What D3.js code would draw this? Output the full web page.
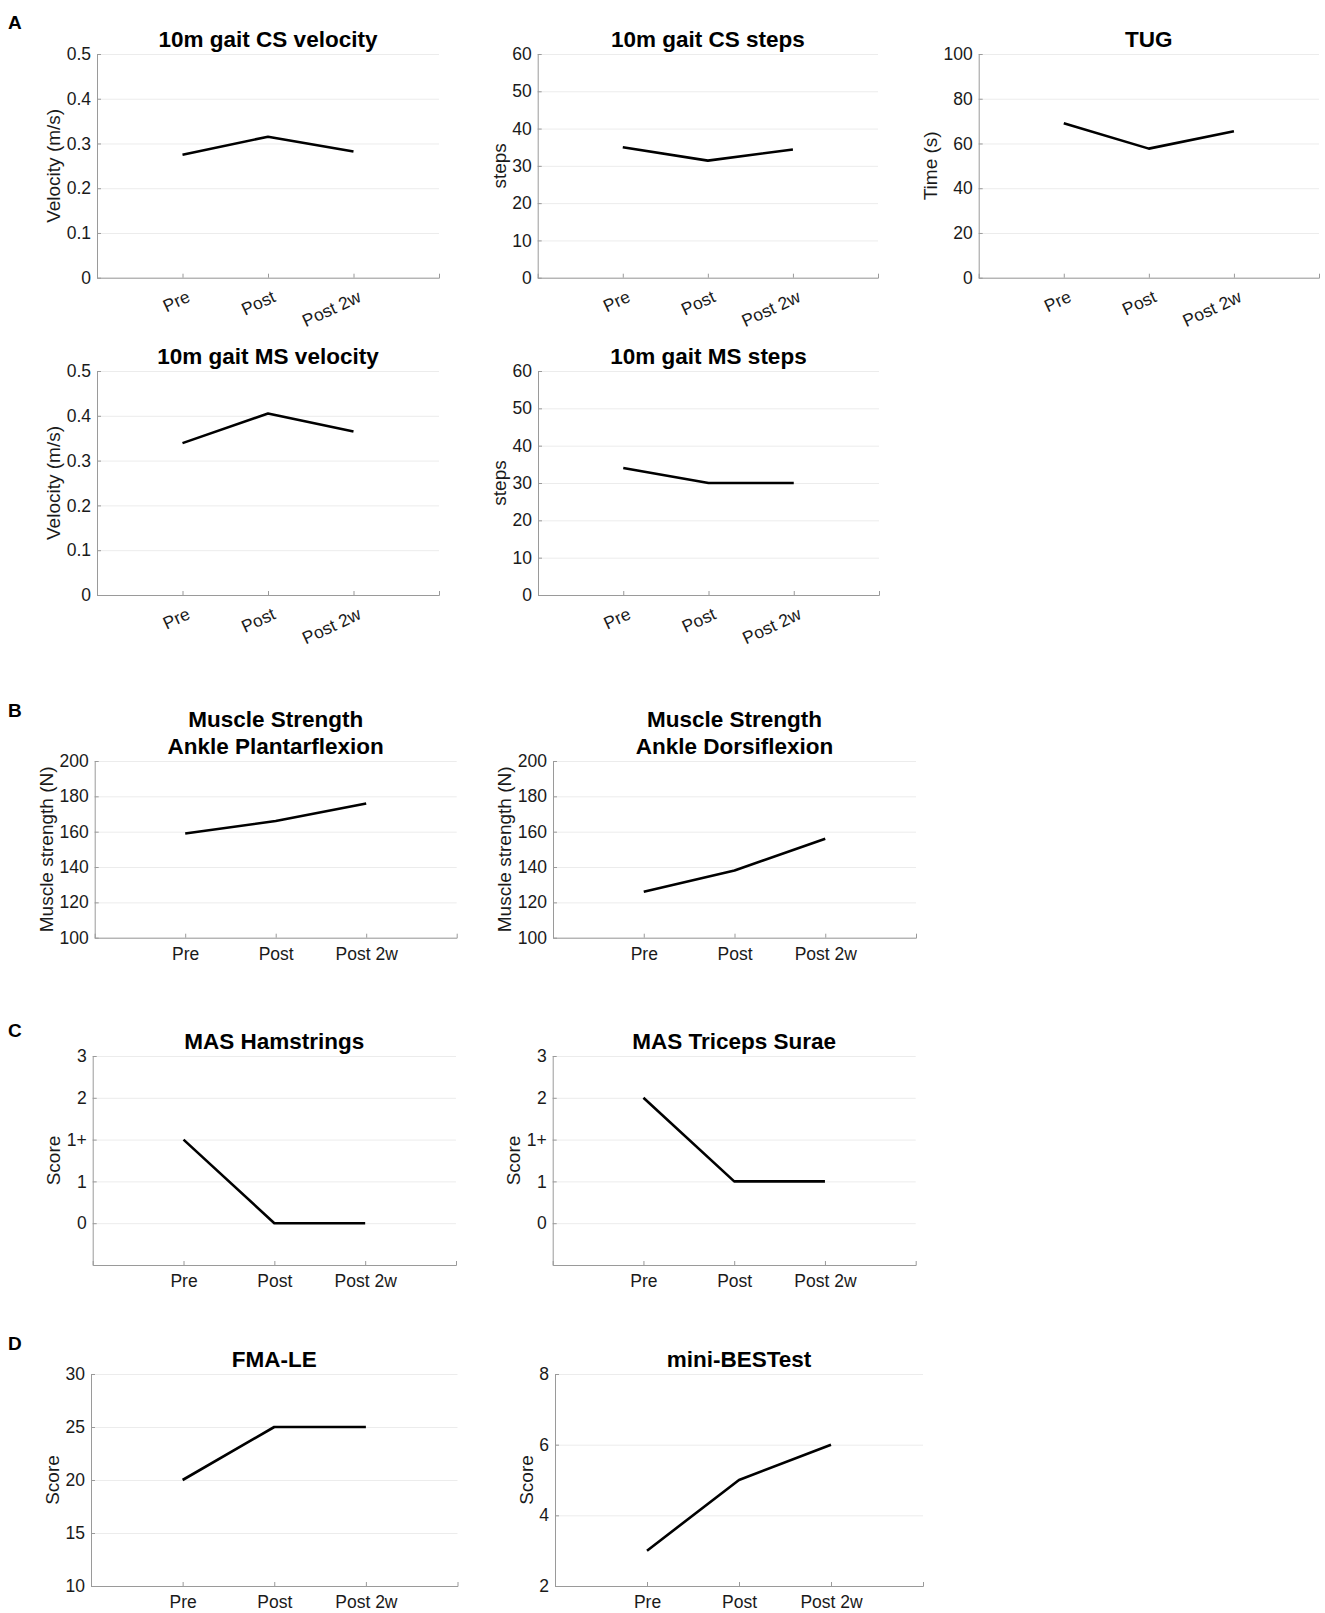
<!DOCTYPE html>
<html>
<head>
<meta charset="utf-8">
<script src="https://cdn.jsdelivr.net/npm/d3@7"></script>
<style>
  html, body { margin: 0; padding: 0; background: #fff; }
  svg { display: block; font-family: "Liberation Sans", Arial, Helvetica, sans-serif; }
</style>
</head>
<body>
<svg id="chart" width="1325" height="1613"></svg>
<script>
// ---------------- data ----------------
const categories = ["Pre", "Post", "Post 2w"];

const csVelocity = [0.275, 0.315, 0.282];
const csSteps = [35, 31.4, 34.4];
const tugTime = [69, 57.7, 65.5];
const msVelocity = [0.339, 0.405, 0.365];
const msSteps = [34, 30, 30];

const plantarflexion = [159, 166, 176];
const dorsiflexion = [126, 138, 156];

const masLevels = ["0", "1", "1+", "2", "3"];
const masHamstrings = ["1+", "0", "0"];
const masTriceps = ["2", "1", "1"];

const fmaLE = [20, 25, 25];
const miniBEST = [3, 5, 6];

const velocityTicks = [0, 0.1, 0.2, 0.3, 0.4, 0.5];
const stepsTicks = [0, 10, 20, 30, 40, 50, 60];
const tugTicks = [0, 20, 40, 60, 80, 100];
const strengthTicks = [100, 120, 140, 160, 180, 200];
const fmaTicks = [10, 15, 20, 25, 30];
const bestTicks = [2, 4, 6, 8];

// ---------------- layout ----------------
const svg = d3.select("#chart");
const FONT_TICK = 17.5, FONT_LABEL = 19, FONT_TITLE = 22.5;
const AXIS_COLOR = "#9a9a9a", GRID_COLOR = "#ececec";

const panels = [
  { box: [97, 439, 54, 277.7], title: ["10m gait CS velocity"], ylabel: "Velocity (m/s)",
    values: csVelocity, domain: [0, 0.5], ticks: velocityTicks, fmt: d3.format(""), rotate: true },
  { box: [537.7, 878, 54, 277.7], title: ["10m gait CS steps"], ylabel: "steps",
    values: csSteps, domain: [0, 60], ticks: stepsTicks, rotate: true },
  { box: [978.7, 1319, 54, 277.7], title: ["TUG"], ylabel: "Time (s)",
    values: tugTime, domain: [0, 100], ticks: tugTicks, rotate: true },
  { box: [97, 439, 371, 595], title: ["10m gait MS velocity"], ylabel: "Velocity (m/s)",
    values: msVelocity, domain: [0, 0.5], ticks: velocityTicks, rotate: true },
  { box: [538, 879, 371, 595], title: ["10m gait MS steps"], ylabel: "steps",
    values: msSteps, domain: [0, 60], ticks: stepsTicks, rotate: true },
  { box: [94.7, 456.7, 761, 937.7], title: ["Muscle Strength", "Ankle Plantarflexion"], ylabel: "Muscle strength (N)",
    values: plantarflexion, domain: [100, 200], ticks: strengthTicks },
  { box: [553, 916, 761, 937.7], title: ["Muscle Strength", "Ankle Dorsiflexion"], ylabel: "Muscle strength (N)",
    values: dorsiflexion, domain: [100, 200], ticks: strengthTicks },
  { box: [92.7, 456, 1056, 1265], title: ["MAS Hamstrings"], ylabel: "Score",
    values: masHamstrings.map(v => masLevels.indexOf(v)), domain: [-1, 4],
    ticks: masLevels.map((d, i) => i), fmt: i => masLevels[i] },
  { box: [552.7, 915.7, 1056, 1265], title: ["MAS Triceps Surae"], ylabel: "Score",
    values: masTriceps.map(v => masLevels.indexOf(v)), domain: [-1, 4],
    ticks: masLevels.map((d, i) => i), fmt: i => masLevels[i] },
  { box: [91, 457.5, 1374, 1586], title: ["FMA-LE"], ylabel: "Score",
    values: fmaLE, domain: [10, 30], ticks: fmaTicks },
  { box: [555, 923, 1374, 1586], title: ["mini-BESTest"], ylabel: "Score",
    values: miniBEST, domain: [2, 8], ticks: bestTicks }
];

const letters = [
  { t: "A", x: 8, y: 29 },
  { t: "B", x: 8, y: 717 },
  { t: "C", x: 8, y: 1037 },
  { t: "D", x: 8, y: 1350 }
];

letters.forEach(l => {
  svg.append("text").attr("x", l.x).attr("y", l.y)
    .attr("font-size", 19).attr("font-weight", "bold").attr("fill", "#000").text(l.t);
});

panels.forEach(p => {
  const [x0, x1, y0, y1] = p.box;
  const x = d3.scaleLinear().domain([0, 4]).range([x0, x1]);
  const y = d3.scaleLinear().domain(p.domain).range([y1, y0]);
  const g = svg.append("g");

  // grid
  const grid = g.append("g").attr("transform", `translate(${x0},0)`)
    .call(d3.axisLeft(y).tickValues(p.ticks).tickSize(-(x1 - x0)).tickFormat(""));
  grid.select(".domain").remove();
  grid.selectAll("line").attr("stroke", GRID_COLOR).attr("stroke-width", 1);

  // data line
  const line = d3.line().x((d, i) => x(i + 1)).y(d => y(d));
  g.append("path").datum(p.values)
    .attr("d", line).attr("fill", "none")
    .attr("stroke", "#000").attr("stroke-width", 2.6)
    .attr("stroke-linejoin", "round");

  // y axis
  const ya = g.append("g").attr("transform", `translate(${x0},0)`)
    .call(d3.axisLeft(y).tickValues(p.ticks)
      .tickFormat(p.fmt || (d => d3.format("")(d)))
      .tickSizeInner(-4).tickSizeOuter(0).tickPadding(6));
  ya.select(".domain").attr("stroke", AXIS_COLOR);
  ya.selectAll(".tick line").attr("stroke", AXIS_COLOR);
  ya.selectAll(".tick text").attr("font-size", FONT_TICK).attr("fill", "#1a1a1a")
    .attr("font-family", "Liberation Sans, Arial, sans-serif");

  // x axis
  const xa = g.append("g").attr("transform", `translate(0,${y1})`)
    .call(d3.axisBottom(x).tickValues([1, 2, 3])
      .tickFormat(d => categories[d - 1])
      .tickSizeInner(-4).tickSizeOuter(-4).tickPadding(9.5));
  xa.select(".domain").attr("stroke", AXIS_COLOR);
  xa.selectAll(".tick line").attr("stroke", AXIS_COLOR);
  const xt = xa.selectAll(".tick text").attr("font-size", FONT_TICK).attr("fill", "#1a1a1a")
    .attr("font-family", "Liberation Sans, Arial, sans-serif");
  if (p.rotate) {
    xt.attr("x", 3).attr("y", 12).attr("dy", "0.71em")
      .attr("text-anchor", "end")
      .attr("transform", "rotate(-25,3,12)");
  }

  // y label
  let maxW = 0;
  ya.selectAll(".tick text").each(function () { maxW = Math.max(maxW, this.getComputedTextLength()); });
  const lx = x0 - maxW - 19;
  const ly = (y0 + y1) / 2;
  g.append("text").attr("transform", `translate(${lx},${ly}) rotate(-90)`)
    .attr("text-anchor", "middle").attr("dy", "0.35em")
    .attr("font-size", FONT_LABEL).attr("fill", "#1a1a1a").text(p.ylabel);

  // title
  const cx = (x0 + x1) / 2;
  const n = p.title.length;
  p.title.forEach((t, i) => {
    g.append("text").attr("x", cx).attr("y", y0 - 7 - (n - 1 - i) * 27)
      .attr("text-anchor", "middle").attr("font-size", FONT_TITLE)
      .attr("font-weight", "bold").attr("fill", "#000").text(t);
  });
});
</script>
</body>
</html>
